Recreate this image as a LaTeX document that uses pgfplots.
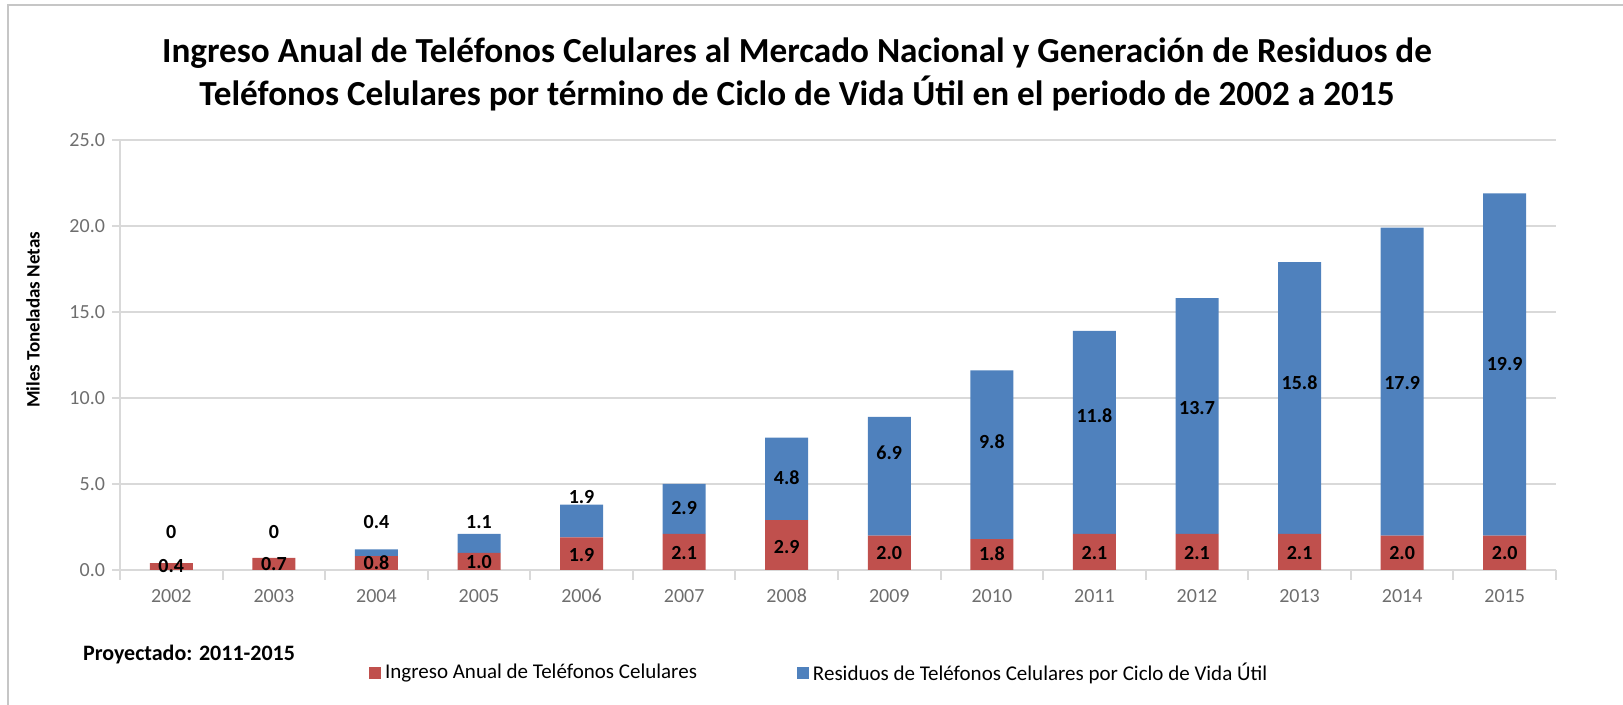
\documentclass[border=0pt]{standalone}
\usepackage{pgfplots}
\usepackage{pgfplotstable}
\pgfplotsset{compat=1.18}
\usepackage{fontspec}
\setmainfont{Carlito}

\definecolor{exred}{HTML}{C0504D}
\definecolor{exblue}{HTML}{4F81BD}
\definecolor{gridgray}{HTML}{D9D9D9}
\definecolor{ticktext}{HTML}{6E6E6E}

% x: category index, red/blue: segment values, ry/by: label heights
\pgfplotstableread{
x  red  blue  ry    by    rlab  blab
0  0.4  0.0   0.22  2.2   0.4   0
1  0.7  0.0   0.32  2.2   0.7   0
2  0.8  0.4   0.40  2.8   0.8   0.4
3  1.0  1.1   0.48  2.8   1.0   1.1
4  1.9  1.9   0.90  4.25  1.9   1.9
5  2.1  2.9   1.00  3.6   2.1   2.9
6  2.9  4.8   1.35  5.35  2.9   4.8
7  2.0  6.9   1.00  6.8   2.0   6.9
8  1.8  9.8   0.95  7.45  1.8   9.8
9  2.1  11.8  1.00  9.0   2.1   11.8
10 2.1  13.7  1.00  9.4   2.1   13.7
11 2.1  15.8  1.00  10.9  2.1   15.8
12 2.0  17.9  1.00  10.9  2.0   17.9
13 2.0  19.9  1.00  12.0  2.0   19.9
}\datatable

\pgfplotsset{
  base/.style={
    scale only axis,
    width=718pt, height=215pt,
    at={(60pt,67.5pt)}, anchor=south west,
    xmin=-0.5, xmax=13.5, ymin=0, ymax=25,
  },
}

\begin{document}
\begin{tikzpicture}
\path[use as bounding box] (0,0) rectangle (811.5pt,352.5pt);
\draw[color=gray!45, line width=1.4pt] (4pt,0) -- (4pt,350pt) -- (811.5pt,350pt);

\begin{axis}[base,
  ybar stacked, bar width=21.5pt,
  axis x line*=bottom, axis y line*=left,
  axis line style={gridgray, line width=1.2pt, -},
  ytick={0,5,...,25},
  ymajorgrids, grid style={gridgray, line width=1.2pt},
  yticklabel style={/pgf/number format/.cd, fixed, fixed zerofill, precision=1, assume math mode=true},
  xtick={0,...,13},
  xticklabels={2002,2003,2004,2005,2006,2007,2008,2009,2010,2011,2012,2013,2014,2015},
  minor xtick={-0.5,0.5,...,13.5},
  tick align=outside,
  major x tick style={draw=none},
  minor x tick style={gridgray, line width=1pt},
  minor tick length=5pt,
  major tick length=4pt,
  y tick style={gridgray, line width=1.2pt},
  ticklabel style={font=\fontsize{10}{12}\selectfont, text=ticktext},
  x tick label style={yshift=-2pt},
  legend columns=2,
  legend style={at={(0.169,-0.24)}, anchor=west, draw=none, fill=none,
    font=\fontsize{10.5}{12}\selectfont,
    /tikz/every even column/.append style={column sep=48pt}},
  legend image code/.code={\fill[#1] (0pt,-3pt) rectangle (6pt,3pt);},
]
\addplot[fill=exred, draw=none] table[x=x, y=red] {\datatable};
\addlegendentry{Ingreso Anual de Teléfonos Celulares}
\addplot[fill=exblue, draw=none] table[x=x, y=blue] {\datatable};
\addlegendentry{Residuos de Teléfonos Celulares por Ciclo de Vida Útil}
\end{axis}

\begin{axis}[base, hide axis,
  nodes near coords, point meta=explicit symbolic,
  nodes near coords align=center,
  every node near coord/.append style={font=\bfseries\fontsize{10}{12}\selectfont, text=black, anchor=center},
]
\addplot[only marks, mark=none] table[x=x, y=ry, meta=rlab] {\datatable};
\addplot[only marks, mark=none] table[x=x, y=by, meta=blab] {\datatable};
\end{axis}

\node[font=\bfseries\fontsize{17.6}{21}\selectfont] at (398.5pt,326pt)
  {Ingreso Anual de Teléfonos Celulares al Mercado Nacional y Generación de Residuos de};
\node[font=\bfseries\fontsize{17.6}{21}\selectfont] at (398.5pt,305.5pt)
  {Teléfonos Celulares por término de Ciclo de Vida Útil en el periodo de 2002 a 2015};
\node[rotate=90, font=\bfseries\fontsize{9.5}{11}\selectfont] at (16.5pt,192.5pt) {Miles Toneladas Netas};
\node[anchor=west, font=\bfseries\fontsize{11}{13}\selectfont] at (38pt,25pt) {Proyectado: 2011-2015};
\end{tikzpicture}
\end{document}
